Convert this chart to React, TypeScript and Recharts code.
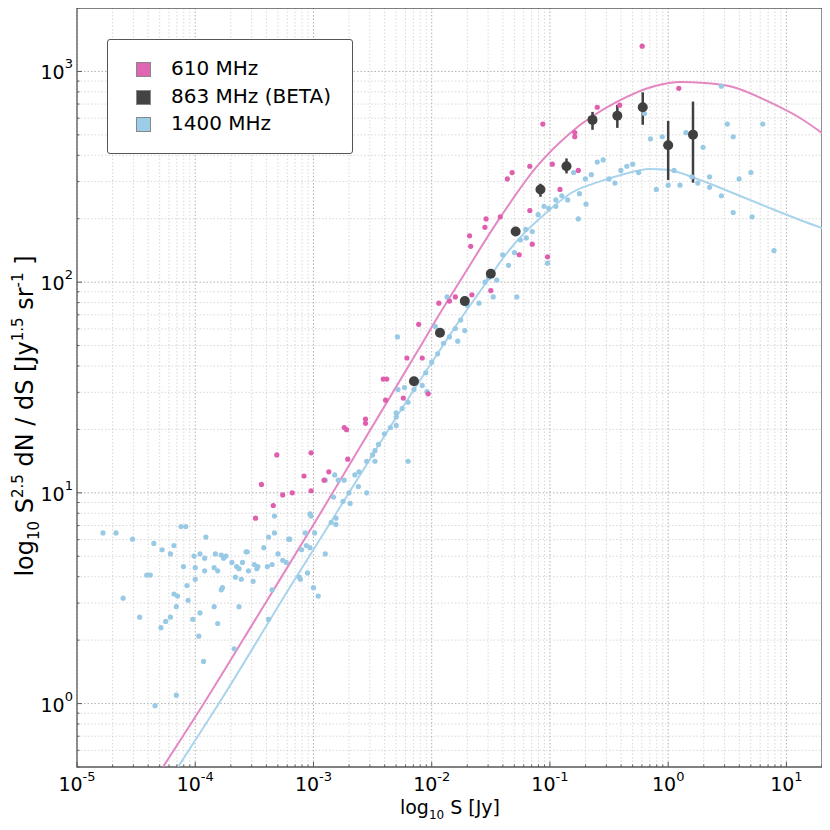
import React from 'react';
import {
  ComposedChart,
  Scatter,
  Line,
  XAxis,
  YAxis,
  CartesianGrid,
  ErrorBar,
  ReferenceArea,
} from 'recharts';

const FONT = '"DejaVu Sans", Verdana, sans-serif';

// all values as [log10 S, log10 S^2.5 dN/dS]
const pts610: [number, number][] = [
  [-3.49, 0.88], [-3.44, 1.04], [-3.34, 0.94], [-3.31, 1.18], [-3.26, 0.99], [-3.18, 1.0],
  [-3.08, 1.08], [-3.02, 1.19], [-3.02, 1.01], [-2.91, 1.06], [-2.87, 1.1], [-2.74, 1.31],
  [-2.72, 1.3], [-2.71, 1.16], [-2.56, 1.35], [-2.56, 1.33], [-2.41, 1.54], [-2.38, 1.54],
  [-2.39, 1.44], [-2.24, 1.45], [-2.03, 1.47], [-2.21, 1.64], [-2.08, 1.64], [-2.11, 1.8],
  [-1.94, 1.9], [-1.85, 1.91], [-1.8, 1.93], [-1.68, 2.22], [-1.67, 2.17], [-1.66, 1.94],
  [-1.55, 2.26], [-1.54, 2.3], [-1.5, 1.96], [-1.42, 2.31], [-1.36, 2.49], [-1.32, 2.52],
  [-1.26, 2.13], [-1.17, 2.34], [-1.15, 2.18], [-1.17, 2.55], [-1.02, 2.12], [-1.06, 2.75],
  [-0.98, 2.56], [-0.915, 2.44], [-0.79, 2.71], [-0.79, 2.69], [-0.76, 2.53], [-0.6, 2.83],
  [-0.41, 2.84], [-0.22, 3.12], [0.09, 2.92],
];

const pts1400: [number, number][] = [
  [-4.78, 0.81], [-4.67, 0.81], [-4.53, 0.78], [-4.61, 0.5], [-4.47, 0.41], [-4.41, 0.61],
  [-4.38, 0.61], [-4.35, 0.76], [-4.28, 0.73], [-4.21, 0.71], [-4.18, 0.75], [-4.12, 0.84],
  [-4.08, 0.84], [-4.1, 0.65], [-4.29, 0.36], [-4.25, 0.39], [-4.21, 0.41], [-4.18, 0.52],
  [-4.15, 0.51], [-4.16, 0.46], [-4.06, 0.49], [-4.07, 0.56], [-4.02, 0.4], [-4.0, 0.645],
  [-4.0, 0.59], [-4.01, 0.7], [-3.96, 0.71], [-3.92, 0.69], [-3.91, 0.79], [-3.92, 0.63],
  [-3.96, 0.43], [-3.97, 0.32], [-3.93, 0.2], [-4.16, 0.04], [-4.34, -0.01], [-3.83, 0.71],
  [-3.78, 0.705], [-3.76, 0.69], [-3.74, 0.7], [-3.84, 0.645], [-3.81, 0.63], [-3.77, 0.55],
  [-3.78, 0.54], [-3.84, 0.46], [-3.81, 0.38], [-3.69, 0.67], [-3.65, 0.65], [-3.63, 0.64],
  [-3.66, 0.6], [-3.61, 0.59], [-3.6, 0.67], [-3.57, 0.72], [-3.56, 0.72], [-3.55, 0.63],
  [-3.51, 0.58], [-3.63, 0.46], [-3.67, 0.26], [-3.5, 0.66], [-3.48, 0.64], [-3.47, 0.65],
  [-3.42, 0.74], [-3.38, 0.79], [-3.35, 0.66], [-3.39, 0.65], [-3.33, 0.89], [-3.33, 0.81],
  [-3.3, 0.71], [-3.35, 0.54], [-3.38, 0.4], [-3.26, 0.68], [-3.23, 0.67], [-3.21, 0.78],
  [-3.2, 0.78], [-3.12, 0.6], [-3.11, 0.59], [-3.1, 0.73], [-3.07, 0.81], [-3.06, 0.75],
  [-3.03, 0.9], [-3.02, 0.89], [-3.03, 0.74], [-3.05, 0.62], [-2.99, 0.81], [-3.0, 0.55],
  [-2.96, 0.51], [-2.9, 0.71], [-2.9, 1.06], [-2.82, 1.085], [-2.83, 0.98], [-2.85, 0.86],
  [-2.81, 0.85], [-2.81, 0.88], [-2.75, 0.96], [-2.74, 1.06], [-2.79, 1.06], [-2.7, 1.0],
  [-2.69, 0.95], [-2.65, 1.085], [-2.62, 1.03], [-2.615, 1.1], [-2.55, 1.15], [-2.55, 1.0],
  [-2.5, 1.18], [-2.48, 1.2], [-2.48, 1.15], [-2.45, 1.23], [-2.4, 1.28], [-2.35, 1.31],
  [-2.3, 1.32], [-2.3, 1.36], [-2.3, 1.38], [-2.25, 1.4], [-2.2, 1.43], [-2.2, 1.15],
  [-2.285, 1.49], [-2.23, 1.5], [-2.15, 1.49], [-2.08, 1.51], [-2.04, 1.48], [-2.05, 1.57],
  [-2.0, 1.62], [-2.29, 1.74], [-1.97, 1.79], [-1.95, 1.66], [-1.9, 1.71], [-1.85, 1.74],
  [-1.8, 1.78], [-1.78, 1.72], [-1.755, 1.82], [-1.72, 1.77], [-1.7, 1.89], [-1.87, 1.93],
  [-1.6, 1.9], [-1.55, 2.0], [-1.52, 2.02], [-1.48, 1.93], [-1.45, 2.01], [-1.4, 2.13],
  [-1.35, 2.08], [-1.3, 2.14], [-1.28, 1.93], [-1.25, 2.2], [-1.205, 2.25], [-1.2, 2.21],
  [-1.15, 2.24], [-1.1, 2.32], [-1.05, 2.36], [-1.01, 2.35], [-1.02, 2.09], [-0.95, 2.39],
  [-0.95, 2.36], [-0.9, 2.41], [-0.85, 2.39], [-0.8, 2.52], [-0.76, 2.3], [-0.75, 2.42],
  [-0.7, 2.49], [-0.695, 2.37], [-0.65, 2.51], [-0.6, 2.57], [-0.55, 2.58], [-0.5, 2.49],
  [-0.45, 2.47], [-0.4, 2.53], [-0.35, 2.55], [-0.3, 2.56], [-0.25, 2.52], [-0.2, 2.8],
  [-0.15, 2.68], [-0.1, 2.44], [-0.05, 2.69], [0.0, 2.46], [0.05, 2.53], [0.1, 2.46],
  [0.15, 2.71], [0.2, 2.5], [0.25, 2.47], [0.295, 2.64], [0.35, 2.5], [0.35, 2.45],
  [0.45, 2.93], [0.45, 2.41], [0.5, 2.75], [0.55, 2.69], [0.55, 2.33], [0.6, 2.49],
  [0.7, 2.52], [0.71, 2.31], [0.8, 2.75], [0.895, 2.15],
];

// 863 MHz BETA points and their error bar ends
const betaLogS = [-2.15, -1.93, -1.72, -1.5, -1.29, -1.08, -0.86, -0.64, -0.43, -0.215, 0.0, 0.21];
const betaLogN = [1.53, 1.76, 1.91, 2.04, 2.24, 2.44, 2.55, 2.77, 2.79, 2.83, 2.65, 2.7];
const betaLogLo = [1.52, 1.75, 1.9, 2.02, 2.22, 2.405, 2.516, 2.723, 2.732, 2.747, 2.485, 2.472];
const betaLogHi = [1.54, 1.77, 1.92, 2.06, 2.26, 2.467, 2.587, 2.808, 2.841, 2.901, 2.765, 2.857];

// fitted curves
const fit610: [number, number][] = [
  [-4.273, -0.301], [-3.909, 0.017], [-3.452, 0.435], [-2.945, 0.9], [-2.606, 1.218],
  [-2.099, 1.692], [-1.93, 1.852], [-1.755, 2.01], [-1.422, 2.306], [-1.112, 2.548],
  [-0.83, 2.707], [-0.435, 2.855], [-0.111, 2.931], [0.1, 2.95], [0.312, 2.945],
  [0.548, 2.926], [0.836, 2.86], [1.115, 2.779], [1.301, 2.708],
];
const fit1400: [number, number][] = [
  [-4.146, -0.301], [-3.782, 0.017], [-3.198, 0.553], [-2.843, 0.871], [-2.437, 1.237],
  [-1.997, 1.621], [-1.761, 1.821], [-1.563, 1.979], [-1.366, 2.137], [-1.196, 2.245],
  [-1.084, 2.303], [-0.802, 2.429], [-0.576, 2.478], [-0.407, 2.507], [-0.154, 2.537],
  [-0.01, 2.533], [0.269, 2.485], [0.548, 2.423], [0.836, 2.357], [1.115, 2.295],
  [1.301, 2.257],
];

const xDomain = [1e-5, 20];
const yDomain = [0.5, 2000];
const xMajor = [1e-5, 1e-4, 1e-3, 1e-2, 1e-1, 1, 10];
const yMajor = [1, 10, 100, 1000];

const minorOf = (decades: number[], lo: number, hi: number) =>
  decades
    .flatMap((d) => [2, 3, 4, 5, 6, 7, 8, 9].map((k) => k * d))
    .filter((v) => v >= lo * 0.999 && v <= hi * 1.001);
const xMinor = minorOf(xMajor, xDomain[0], xDomain[1]);
const yMinor = minorOf([0.1, ...yMajor], yDomain[0], yDomain[1]);
const xTicks = [...xMajor, ...xMinor].sort((a, b) => a - b);
const yTicks = [...yMajor, ...yMinor].sort((a, b) => a - b);

const toPoints = (arr: [number, number][]) => arr.map(([s, n]) => ({ x: 10 ** s, y: 10 ** n }));
const data610 = toPoints(pts610);
const data1400 = toPoints(pts1400);
const curve610 = toPoints(fit610);
const curve1400 = toPoints(fit1400);
const betaData = betaLogS.map((s, i) => {
  const y = 10 ** betaLogN[i];
  return { x: 10 ** s, y, err: [y - 10 ** betaLogLo[i], 10 ** betaLogHi[i] - y] };
});

const PINK = '#df5fae';
const BLUE = '#98c9e5';
const PINK_LINE = '#e488c3';
const BLUE_LINE = '#a9d4ec';
const DARK = '#404040';
const FRAME = '#5a5a5a';

const isMajor = (v: number) => {
  const e = Math.round(Math.log10(v));
  return Math.abs(v - 10 ** e) < 1e-6 * v;
};
const expLabel = (v: number) => {
  const e = Math.round(Math.log10(v));
  return e < 0 ? '-' + -e : String(e);
};

const BottomTick = (props: any) => {
  const { x, y, payload } = props;
  const major = isMajor(payload.value);
  return (
    <g>
      <line x1={x} x2={x} y1={y} y2={y - (major ? 5 : 2.5)} stroke={FRAME} strokeWidth={1} />
      {major && (
        <text x={x} y={y + 24} textAnchor="middle" fontFamily={FONT} fontSize={19} fill="#000">
          <tspan>10</tspan>
          <tspan dy={-10} fontSize={13}>{expLabel(payload.value)}</tspan>
        </text>
      )}
    </g>
  );
};

const TopTick = (props: any) => {
  const { x, y, payload } = props;
  const major = isMajor(payload.value);
  return <line x1={x} x2={x} y1={y} y2={y + (major ? 5 : 2.5)} stroke={FRAME} strokeWidth={1} />;
};

const LeftTick = (props: any) => {
  const { x, y, payload } = props;
  const major = isMajor(payload.value);
  return (
    <g>
      <line x1={x} x2={x + (major ? 5 : 2.5)} y1={y} y2={y} stroke={FRAME} strokeWidth={1} />
      {major && (
        <text x={x - 4} y={y + 8} textAnchor="end" fontFamily={FONT} fontSize={19} fill="#000">
          <tspan>10</tspan>
          <tspan dy={-11} fontSize={13}>{expLabel(payload.value)}</tspan>
        </text>
      )}
    </g>
  );
};

const RightTick = (props: any) => {
  const { x, y, payload } = props;
  const major = isMajor(payload.value);
  return <line x1={x} x2={x - (major ? 5 : 2.5)} y1={y} y2={y} stroke={FRAME} strokeWidth={1} />;
};

const dot = (fill: string, r: number) => (props: any) =>
  <circle cx={props.cx} cy={props.cy} r={r} fill={fill} />;

const legendItems = [
  { label: '610 MHz', color: '#e066b3' },
  { label: '863 MHz (BETA)', color: '#444444' },
  { label: '1400 MHz', color: '#9ccde8' },
];

const App: React.FC = () => {
  return (
    <div style={{ position: 'relative', width: 822, height: 822, fontFamily: FONT }}>
      <ComposedChart width={822} height={822} margin={{ top: 0, right: 8, bottom: 0, left: 0 }}>
        <CartesianGrid
          horizontalValues={yMinor}
          verticalValues={xMinor}
          stroke="#cfcfcf"
          strokeDasharray="1.5 2"
          strokeWidth={0.8}
        />
        <CartesianGrid
          horizontalValues={yMajor}
          verticalValues={xMajor}
          stroke="#a8a8a8"
          strokeDasharray="1.5 2"
          strokeWidth={0.9}
        />
        <XAxis
          dataKey="x"
          type="number"
          scale="log"
          domain={xDomain}
          allowDataOverflow
          ticks={xTicks}
          interval={0}
          height={63}
          tickSize={0}
          tickMargin={0}
          axisLine={false}
          tickLine={false}
          tick={BottomTick}
        />
        <XAxis
          xAxisId="top"
          orientation="top"
          type="number"
          scale="log"
          domain={xDomain}
          allowDataOverflow
          ticks={xTicks}
          interval={0}
          height={0}
          tickSize={0}
          tickMargin={0}
          axisLine={false}
          tickLine={false}
          tick={TopTick}
        />
        <YAxis
          dataKey="y"
          type="number"
          scale="log"
          domain={yDomain}
          allowDataOverflow
          ticks={yTicks}
          interval={0}
          width={69}
          tickSize={0}
          tickMargin={0}
          axisLine={false}
          tickLine={false}
          tick={LeftTick}
        />
        <YAxis
          yAxisId="right"
          orientation="right"
          type="number"
          scale="log"
          domain={yDomain}
          allowDataOverflow
          ticks={yTicks}
          interval={0}
          width={0}
          tickSize={0}
          tickMargin={0}
          axisLine={false}
          tickLine={false}
          tick={RightTick}
        />
        <Scatter data={data1400} fill={BLUE} shape={dot(BLUE, 2.6)} isAnimationActive={false} />
        <Scatter data={data610} fill={PINK} shape={dot(PINK, 2.6)} isAnimationActive={false} />
        <Line
          data={curve1400}
          dataKey="y"
          type="monotone"
          stroke={BLUE_LINE}
          strokeWidth={2}
          dot={false}
          activeDot={false}
          isAnimationActive={false}
        />
        <Line
          data={curve610}
          dataKey="y"
          type="monotone"
          stroke={PINK_LINE}
          strokeWidth={2}
          dot={false}
          activeDot={false}
          isAnimationActive={false}
        />
        <Scatter data={betaData} fill={DARK} shape={dot(DARK, 5)} isAnimationActive={false}>
          <ErrorBar dataKey="err" direction="y" width={0} stroke={DARK} strokeWidth={2.5} />
        </Scatter>
        <ReferenceArea
          x1={xDomain[0]}
          x2={xDomain[1]}
          y1={yDomain[0]}
          y2={yDomain[1]}
          fill="none"
          fillOpacity={0}
          stroke={FRAME}
          strokeWidth={1.3}
          ifOverflow="visible"
        />
      </ComposedChart>

      <svg
        width={822}
        height={822}
        style={{ position: 'absolute', left: 0, top: 0, pointerEvents: 'none' }}
      >
        <text x={442} y={806} textAnchor="middle" fontFamily={FONT} fontSize={19} fill="#000">
          <tspan>log</tspan>
          <tspan dy={5} fontSize={12}>10</tspan>
          <tspan dy={-5}> S [Jy]</tspan>
        </text>
        <text
          transform="translate(25 408) rotate(-90)"
          textAnchor="middle"
          fontFamily={FONT}
          fontSize={24}
          fill="#000"
        >
          <tspan>log</tspan>
          <tspan dy={6} fontSize={15}>10</tspan>
          <tspan dy={-6}> S</tspan>
          <tspan dy={-10} fontSize={15}>2.5</tspan>
          <tspan dy={10}> dN / dS [Jy</tspan>
          <tspan dy={-10} fontSize={15}>1.5</tspan>
          <tspan dy={10}> sr</tspan>
          <tspan dy={-10} fontSize={15}>-1</tspan>
          <tspan dy={10}> ]</tspan>
        </text>
      </svg>

      <div
        style={{
          position: 'absolute',
          left: 99,
          top: 31,
          width: 244,
          height: 113,
          background: '#fff',
          border: '1px solid #555',
          borderRadius: 3,
        }}
      >
        {legendItems.map((item, i) => (
          <div key={item.label}>
            <div
              style={{
                position: 'absolute',
                left: 28,
                top: 22 + i * 27.5,
                width: 13,
                height: 13,
                background: item.color,
                border: '0.5px solid #888',
              }}
            />
            <div
              style={{
                position: 'absolute',
                left: 63,
                top: 15 + i * 27.5,
                fontSize: 20,
                lineHeight: '26px',
                color: '#000',
                whiteSpace: 'nowrap',
              }}
            >
              {item.label}
            </div>
          </div>
        ))}
      </div>
    </div>
  );
};

export default App;
